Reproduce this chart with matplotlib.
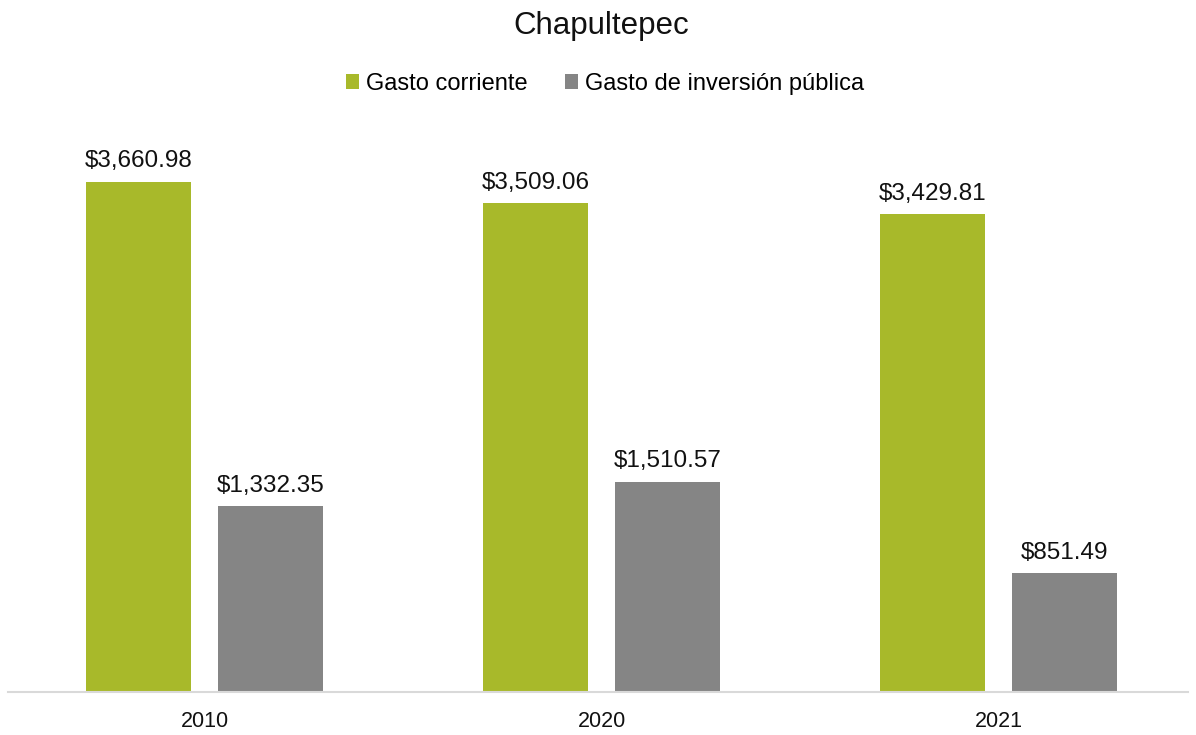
import matplotlib.pyplot as plt
import numpy as np

plt.rcParams['font.family'] = ['Liberation Sans', 'DejaVu Sans']

years = ['2010', '2020', '2021']
gasto_corriente = [3660.98, 3509.06, 3429.81]
gasto_inversion = [1332.35, 1510.57, 851.49]

green = '#A8B92A'
gray = '#858585'

fig = plt.figure(figsize=(11.96, 7.35), dpi=100)
ax = fig.add_axes([8 / 1196, 43 / 735, 1180 / 1196, 557 / 735])

x = np.arange(len(years))  # the label locations
width = 0.2645
offset = 0.166

r1 = ax.bar(x - offset, gasto_corriente, width, color=green, label='Gasto corriente')
r2 = ax.bar(x + offset, gasto_inversion, width, color=gray, label='Gasto de inversión pública')

for rect in (r1, r2):
    ax.bar_label(rect, labels=['${:,.2f}'.format(v) for v in rect.datavalues],
                 padding=7, fontsize=17.5, color='#111111')

ax.set_xlim(-0.495, 2.477)
ax.set_ylim(0, 4000)
ax.set_yticks([])
ax.set_xticks(x, years)
ax.tick_params(axis='x', length=0, pad=14, labelsize=15.5, colors='#111111')
for side in ('top', 'right', 'left'):
    ax.spines[side].set_visible(False)
ax.spines['bottom'].set_color('#D9D9D9')
ax.spines['bottom'].set_linewidth(1.5)

fig.text(0.503, 0.965, 'Chapultepec', ha='center', va='center', fontsize=22.5, color='#111111')
fig.legend(handles=[r1, r2], loc='center', bbox_to_anchor=(0.506, 0.886), ncol=2,
           frameon=False, fontsize=17, handlelength=0.55, handleheight=0.55,
           handletextpad=0.3, columnspacing=1.6)

fig.savefig('out.png', dpi=100)
